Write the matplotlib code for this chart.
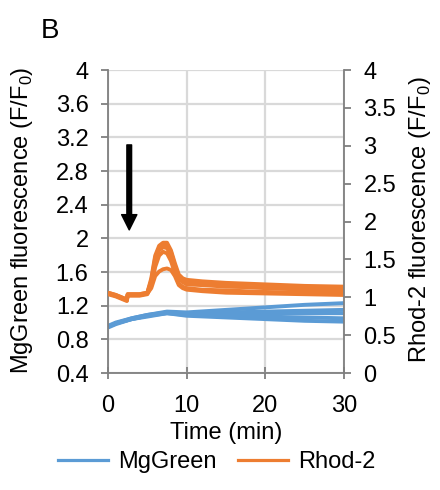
import matplotlib
matplotlib.use("Agg")
import matplotlib.pyplot as plt

plt.rcParams['font.family'] = ['Liberation Sans', 'DejaVu Sans']
plt.rcParams['mathtext.fontset'] = 'custom'
plt.rcParams['mathtext.rm'] = 'Liberation Sans'

# ---- data ----
t_rhod = [0, 1, 2.4, 2.5, 4, 5, 5.5, 6, 6.5, 7, 7.5, 8, 8.5, 9, 9.5, 10, 12, 15, 20, 25, 30]
rhod_1 = [1.06, 1.03, 0.97, 1.04, 1.04, 1.06, 1.25, 1.55, 1.68, 1.72, 1.72, 1.62, 1.45, 1.30, 1.25, 1.23, 1.21, 1.19, 1.17, 1.15, 1.14]
rhod_2 = [1.05, 1.02, 0.96, 1.03, 1.03, 1.05, 1.20, 1.48, 1.62, 1.66, 1.65, 1.55, 1.38, 1.24, 1.20, 1.17, 1.16, 1.14, 1.13, 1.12, 1.11]
rhod_3 = [1.04, 1.01, 0.95, 1.02, 1.02, 1.04, 1.15, 1.40, 1.55, 1.60, 1.58, 1.48, 1.32, 1.18, 1.14, 1.12, 1.10, 1.09, 1.07, 1.06, 1.05]
rhod_4 = [1.05, 1.02, 0.96, 1.03, 1.03, 1.05, 1.12, 1.28, 1.34, 1.37, 1.38, 1.36, 1.28, 1.16, 1.12, 1.10, 1.08, 1.06, 1.05, 1.04, 1.03]
rhod_5 = [1.06, 1.03, 0.97, 1.04, 1.04, 1.06, 1.22, 1.52, 1.65, 1.70, 1.69, 1.60, 1.42, 1.26, 1.22, 1.20, 1.18, 1.15, 1.12, 1.10, 1.08]
rhod_traces = [rhod_1, rhod_2, rhod_3, rhod_4, rhod_5]

t_mg = [0, 1, 3, 5, 7.5, 10, 15, 20, 25, 30]
mg_1 = [0.95, 0.99, 1.05, 1.09, 1.13, 1.12, 1.15, 1.18, 1.21, 1.23]
mg_2 = [0.96, 1.00, 1.05, 1.09, 1.12, 1.11, 1.12, 1.13, 1.14, 1.15]
mg_3 = [0.95, 0.99, 1.04, 1.08, 1.12, 1.10, 1.10, 1.11, 1.11, 1.11]
mg_4 = [0.95, 0.99, 1.04, 1.08, 1.11, 1.09, 1.08, 1.07, 1.06, 1.05]
mg_5 = [0.94, 0.98, 1.04, 1.07, 1.11, 1.08, 1.06, 1.04, 1.02, 1.01]
mg_traces = [mg_1, mg_2, mg_3, mg_4, mg_5]

x_ticks = [0, 10, 20, 30]
left_ticks = [0.4, 0.8, 1.2, 1.6, 2.0, 2.4, 2.8, 3.2, 3.6, 4.0]
left_labels = ['0.4', '0.8', '1.2', '1.6', '2', '2.4', '2.8', '3.2', '3.6', '4']
right_ticks = [0, 0.5, 1, 1.5, 2, 2.5, 3, 3.5, 4]
right_labels = ['0', '0.5', '1', '1.5', '2', '2.5', '3', '3.5', '4']

BLUE = '#5B9BD5'
ORANGE = '#ED7D31'
SPINE = '#7F7F7F'
GRID = '#D9D9D9'
FS = 17
LW = 2.8

W, H = 440, 490
fig = plt.figure(figsize=(W / 100, H / 100), dpi=100)
ax = fig.add_axes([108 / W, 1 - 373 / H, (344 - 108) / W, (373 - 70) / H])
ax2 = ax.twinx()

for tr in mg_traces:
    ax.plot(t_mg, tr, color=BLUE, lw=LW, solid_capstyle='butt')
for tr in rhod_traces:
    ax2.plot(t_rhod, tr, color=ORANGE, lw=LW, solid_capstyle='butt')

ax.set_xlim(0, 30)
ax.set_ylim(0.4, 4)
ax2.set_ylim(0, 4)
ax.set_xticks(x_ticks)
ax.set_yticks(left_ticks)
ax.set_yticklabels(left_labels)
ax2.set_yticks(right_ticks)
ax2.set_yticklabels(right_labels)

ax.grid(True, color=GRID, lw=1.6)
ax.set_axisbelow(True)

for a in (ax, ax2):
    for s in a.spines.values():
        s.set_visible(False)
ax.spines['left'].set_visible(True)
ax.spines['bottom'].set_visible(True)
ax2.spines['right'].set_visible(True)
for s in (ax.spines['left'], ax.spines['bottom'], ax2.spines['right']):
    s.set_color(SPINE)
    s.set_linewidth(1.3)

ax.tick_params(axis='y', direction='out', length=5, width=1.3, color=SPINE, pad=9, labelsize=FS)
ax.tick_params(axis='x', direction='inout', length=9, width=1.3, color=SPINE, pad=11, labelsize=FS)
ax2.tick_params(axis='y', direction='out', length=5, width=1.3, color=SPINE, pad=9, labelsize=FS)

# arrow marking addition
ax.annotate('', xy=(2.7, 2.10), xytext=(2.7, 3.11),
            arrowprops=dict(width=3.4, headwidth=11, headlength=11, color='black', shrink=0))

fig.text(22 / W, 1 - 220 / H, 'MgGreen fluorescence (F/F$_\\mathregular{0}$)', rotation=90,
         ha='center', va='center', fontsize=FS)
fig.text(420 / W, 1 - 220 / H, 'Rhod-2 fluorescence (F/F$_\\mathregular{0}$)', rotation=90,
         ha='center', va='center', fontsize=FS)
fig.text(226 / W, 1 - 433 / H, 'Time (min)', ha='center', va='center', fontsize=FS)
fig.text(50 / W, 1 - 31 / H, 'B', ha='center', va='center', fontsize=20)

h1, = ax.plot([], [], color=BLUE, lw=2.3)
h2, = ax.plot([], [], color=ORANGE, lw=2.3)
fig.legend([h1, h2], ['MgGreen', 'Rhod-2'], loc='center', bbox_to_anchor=(217 / W, 1 - 462 / H),
           ncol=2, frameon=False, fontsize=FS, handlelength=2.1, handletextpad=0.45,
           columnspacing=0.9)

fig.savefig('out.png', dpi=100)
